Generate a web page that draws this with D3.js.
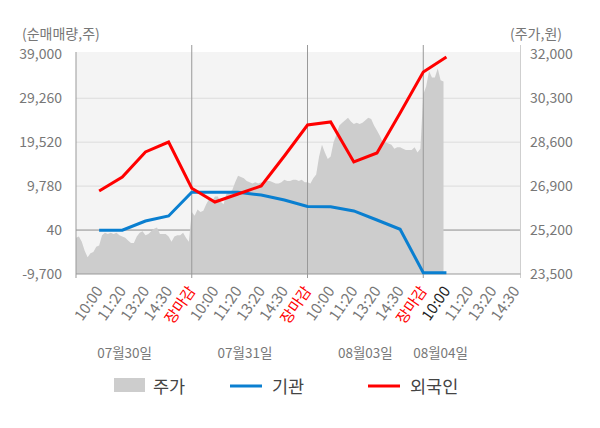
<!DOCTYPE html>
<html>
<head>
<meta charset="utf-8">
<script src="https://cdn.jsdelivr.net/npm/d3@7"></script>
<style>
  body { margin: 0; background: #fff; }
  text { font-family: "Noto Sans CJK KR", "Noto Sans", sans-serif; }
</style>
</head>
<body>
<script>
// categories
var days = ["07월30일", "07월31일", "08월03일", "08월04일"];
var timeLabels = ["10:00", "11:20", "13:20", "14:30", "장마감"];

// tick labels
var leftTicks = [-9700, 40, 9780, 19520, 29260, 39000];
var leftTickLabels = ["-9,700", "40", "9,780", "19,520", "29,260", "39,000"];
var rightTicks = [23500, 25200, 26900, 28600, 30300, 32000];
var rightTickLabels = ["23,500", "25,200", "26,900", "28,600", "30,300", "32,000"];

// 주가 (intraday, 40 samples per day)
var price0730 = [24900, 24950, 24750, 24400, 24150, 24300, 24350, 24550, 24600, 25000,
                 25100, 25050, 25100, 25050, 25100, 25000, 24950, 24900, 24800, 24700,
                 24700, 24950, 25100, 25150, 25000, 25050, 25150, 25250, 25300, 25050,
                 25050, 25050, 24950, 24750, 24950, 25000, 25000, 25100, 24900, 24750];
var price0731 = [25900, 25750, 26000, 25900, 25950, 26200, 26400, 26300, 26500, 26500,
                 26300, 26200, 26600, 26650, 26750, 27050, 27300, 27250, 27200, 27100,
                 27050, 27000, 27050, 27000, 27050, 26950, 27100, 27100, 27050, 27000,
                 27000, 27050, 27150, 27100, 27100, 27150, 27150, 27100, 27150, 27050];
var price0803 = [27050, 27000, 27200, 27350, 28050, 28500, 28200, 27950, 28050, 28600,
                 28900, 29250, 29350, 29450, 29550, 29400, 29300, 29350, 29300, 29350,
                 29450, 29550, 29500, 29250, 29050, 28850, 28600, 28600, 28550, 28500,
                 28350, 28400, 28400, 28350, 28300, 28300, 28300, 28400, 28200, 28350];
var price0804 = [30450, 30750, 31350, 31100, 31100, 31450, 31000, 30950];

// 순매매량 at each time label
var inst = [0, 0, 2050, 3160, 8410, 8410, 8410, 7810, 6710, 5260,
            5220, 4270, 2270, 210, -9410, -9410];
var foreign = [8700, 11800, 17350, 19560, 9300, 6260, 8040, 9810, 16460, 23330,
               24000, 15130, 17130, 25990, 35080, 38410];

var w = 600;
var h = 428;
var margin = { top: 52, left: 76, right: 79.5, bottom: 154 };
var plotTop = 54.3;
var slotsPerDay = timeLabels.length;
var xMax = 19.2;
var dateSlot = [2.1, 7.3, 12.5, 15.75];
var todayLabel = 15;

var svg = d3.select("body").append("svg")
  .attr("width", w)
  .attr("height", h);

var x = d3.scaleLinear().domain([0, xMax]).range([margin.left, w - margin.right]);
var yL = d3.scaleLinear().domain([-9700, 39000]).range([h - margin.bottom, plotTop]);
var yR = d3.scaleLinear().domain([23500, 32000]).range([h - margin.bottom, plotTop]);

var x0 = x(0), x1 = x(xMax), yB = h - margin.bottom;

// plot background
svg.append("rect")
  .attr("x", x0).attr("y", margin.top)
  .attr("width", x1 - x0).attr("height", yB - margin.top)
  .attr("fill", "#f4f4f4");

// horizontal grid
svg.selectAll("line.grid")
  .data(leftTicks.slice(1, leftTicks.length - 1))
  .enter().append("line")
  .attr("class", "grid")
  .attr("x1", x0).attr("x2", x1)
  .attr("y1", function (d) { return yL(d); })
  .attr("y2", function (d) { return yL(d); })
  .attr("stroke", function (d) { return d === 40 ? "#8c8c8c" : "#dcdcdc"; })
  .attr("stroke-width", 1);

// price area
var pricePts = [];
[price0730, price0731, price0803, price0804].forEach(function (arr, d) {
  arr.forEach(function (v, i) {
    pricePts.push({ x: d * slotsPerDay + i * slotsPerDay / 40, v: v });
  });
});

svg.append("path")
  .datum(pricePts)
  .attr("fill", "#cdcdcd")
  .attr("d", d3.area()
    .x(function (d) { return x(d.x); })
    .y0(yB)
    .y1(function (d) { return yR(d.v); }));

// day dividers
svg.selectAll("line.day")
  .data([1, 2, 3])
  .enter().append("line")
  .attr("class", "day")
  .attr("x1", function (d) { return x(d * slotsPerDay); })
  .attr("x2", function (d) { return x(d * slotsPerDay); })
  .attr("y1", 45).attr("y2", yB + 4)
  .attr("stroke", "#999").attr("stroke-width", 1);

// right edge
svg.append("line")
  .attr("x1", x1).attr("x2", x1)
  .attr("y1", 45).attr("y2", yB + 4)
  .attr("stroke", "#cfcfcf");

// left edge + bottom axis line
svg.append("line")
  .attr("x1", x0).attr("x2", x0)
  .attr("y1", margin.top).attr("y2", yB + 4)
  .attr("stroke", "#999");
svg.append("line")
  .attr("x1", x0).attr("x2", x1)
  .attr("y1", yB).attr("y2", yB)
  .attr("stroke", "#999");

// lines
var line = d3.line()
  .x(function (d, i) { return x(i + 1); })
  .y(function (d) { return yL(d); });

svg.append("path")
  .datum(inst)
  .attr("fill", "none")
  .attr("stroke", "#0a7fd0")
  .attr("stroke-width", 3)
  .attr("d", line);

svg.append("path")
  .datum(foreign)
  .attr("fill", "none")
  .attr("stroke", "#ff0000")
  .attr("stroke-width", 3)
  .attr("d", line);

// left axis
var gL = svg.append("g")
  .attr("transform", "translate(" + (x0 - 11) + ",0)")
  .call(d3.axisLeft(yL).tickValues(leftTicks).tickSize(0)
    .tickFormat(function (d, i) { return leftTickLabels[i]; }));
gL.select(".domain").remove();
gL.selectAll("text")
  .attr("font-size", 14)
  .attr("fill", "#777")
  .attr("font-family", "Noto Sans CJK KR");

// right axis
var gR = svg.append("g")
  .attr("transform", "translate(" + (x1 + 6.5) + ",0)")
  .call(d3.axisRight(yR).tickValues(rightTicks).tickSize(0)
    .tickFormat(function (d, i) { return rightTickLabels[i]; }));
gR.select(".domain").remove();
gR.selectAll("text")
  .attr("font-size", 14)
  .attr("fill", "#777")
  .attr("font-family", "Noto Sans CJK KR");

// axis titles
svg.append("text")
  .attr("x", 22).attr("y", 39)
  .attr("font-size", 14).attr("fill", "#777")
  .text("(순매매량,주)");
svg.append("text")
  .attr("x", 562).attr("y", 39)
  .attr("text-anchor", "end")
  .attr("font-size", 14).attr("fill", "#777")
  .text("(주가,원)");

// time labels
var labelPos = [];
days.forEach(function (day, d) {
  timeLabels.forEach(function (t, k) {
    var p = d * slotsPerDay + k + 1;
    if (p <= xMax) labelPos.push({ p: p, t: t, idx: labelPos.length });
  });
});

var gX = svg.append("g")
  .attr("transform", "translate(0," + yB + ")")
  .call(d3.axisBottom(x).tickValues(labelPos.map(function (d) { return d.p; })).tickSize(0)
    .tickFormat(function (d, i) { return labelPos[i].t; }));
gX.select(".domain").remove();
gX.selectAll("text")
  .attr("font-size", 15)
  .attr("font-family", "Noto Sans CJK KR")
  .attr("text-anchor", "end")
  .attr("dy", 0)
  .attr("y", 0)
  .attr("transform", "translate(4,17) rotate(-55)")
  .attr("fill", function (d, i) {
    if (labelPos[i].t === "장마감") return "#ff0000";
    if (i === todayLabel) return "#222";
    return "#777";
  });

// date labels
svg.selectAll("text.date")
  .data(days)
  .enter().append("text")
  .attr("class", "date")
  .attr("x", function (d, i) { return x(dateSlot[i]); })
  .attr("y", 358)
  .attr("text-anchor", "middle")
  .attr("font-size", 13.5)
  .attr("fill", "#777")
  .text(function (d) { return d; });

// legend
var lg = svg.append("g");
lg.append("rect")
  .attr("x", 114).attr("y", 378)
  .attr("width", 31).attr("height", 14)
  .attr("fill", "#cdcdcd");
lg.append("line")
  .attr("x1", 230).attr("x2", 262).attr("y1", 386).attr("y2", 386)
  .attr("stroke", "#0a7fd0").attr("stroke-width", 3);
lg.append("line")
  .attr("x1", 368).attr("x2", 400).attr("y1", 386).attr("y2", 386)
  .attr("stroke", "#ff0000").attr("stroke-width", 3);
lg.selectAll("text")
  .data([["주가", 153], ["기관", 272], ["외국인", 410]])
  .enter().append("text")
  .attr("x", function (d) { return d[1]; })
  .attr("y", 392.5)
  .attr("font-size", 17.5)
  .attr("fill", "#444")
  .text(function (d) { return d[0]; });
</script>
</body>
</html>
